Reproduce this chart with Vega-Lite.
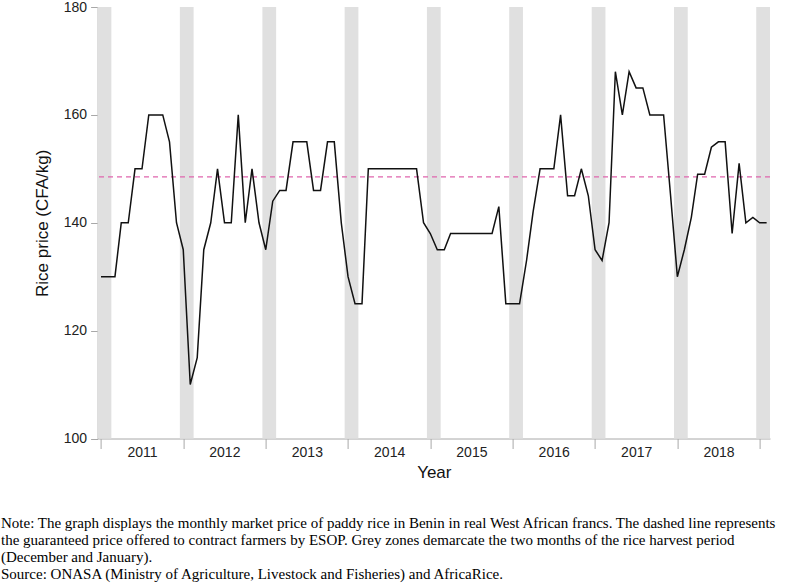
{
  "$schema": "https://vega.github.io/schema/vega-lite/v6.json",
  "width": 672.4,
  "height": 431.5,
  "autosize": {"type": "none"},
  "padding": {"left": 97.6, "top": 7, "right": 20, "bottom": 144.5},
  "background": "white",
  "config": {
    "view": {"stroke": null},
    "font": "Liberation Sans",
    "axis": {
      "domainColor": "#a8a8a8",
      "tickColor": "#a8a8a8",
      "domainWidth": 1,
      "tickWidth": 1,
      "grid": false,
      "labelColor": "#222222",
      "labelFont": "Liberation Sans",
      "labelFontSize": 14,
      "titleFont": "Liberation Sans",
      "titleFontSize": 17,
      "titleFontWeight": "normal",
      "titleColor": "#111111"
    }
  },
  "title": {
    "text": [
      "Note: The graph displays the monthly market price of paddy rice in Benin in real West African francs. The dashed line represents",
      "the guaranteed price offered to contract farmers by ESOP. Grey zones demarcate the two months of the rice harvest period",
      "(December and January).",
      "Source: ONASA (Ministry of Agriculture, Livestock and Fisheries) and AfricaRice."
    ],
    "orient": "bottom",
    "anchor": "start",
    "frame": "group",
    "font": "Liberation Serif",
    "fontSize": 15,
    "fontWeight": "normal",
    "color": "#000000",
    "lineHeight": 17,
    "offset": 35,
    "dx": -96.6
  },
  "datasets": {
    "prices": [
      {"date": "2010-12-01", "price": 130},
      {"date": "2011-01-01", "price": 130},
      {"date": "2011-02-01", "price": 130},
      {"date": "2011-03-01", "price": 140},
      {"date": "2011-04-01", "price": 140},
      {"date": "2011-05-01", "price": 150},
      {"date": "2011-06-01", "price": 150},
      {"date": "2011-07-01", "price": 160},
      {"date": "2011-08-01", "price": 160},
      {"date": "2011-09-01", "price": 160},
      {"date": "2011-10-01", "price": 155},
      {"date": "2011-11-01", "price": 140},
      {"date": "2011-12-01", "price": 135},
      {"date": "2012-01-01", "price": 110},
      {"date": "2012-02-01", "price": 115},
      {"date": "2012-03-01", "price": 135},
      {"date": "2012-04-01", "price": 140},
      {"date": "2012-05-01", "price": 150},
      {"date": "2012-06-01", "price": 140},
      {"date": "2012-07-01", "price": 140},
      {"date": "2012-08-01", "price": 160},
      {"date": "2012-09-01", "price": 140},
      {"date": "2012-10-01", "price": 150},
      {"date": "2012-11-01", "price": 140},
      {"date": "2012-12-01", "price": 135},
      {"date": "2013-01-01", "price": 144},
      {"date": "2013-02-01", "price": 146},
      {"date": "2013-03-01", "price": 146},
      {"date": "2013-04-01", "price": 155},
      {"date": "2013-05-01", "price": 155},
      {"date": "2013-06-01", "price": 155},
      {"date": "2013-07-01", "price": 146},
      {"date": "2013-08-01", "price": 146},
      {"date": "2013-09-01", "price": 155},
      {"date": "2013-10-01", "price": 155},
      {"date": "2013-11-01", "price": 140},
      {"date": "2013-12-01", "price": 130},
      {"date": "2014-01-01", "price": 125},
      {"date": "2014-02-01", "price": 125},
      {"date": "2014-03-01", "price": 150},
      {"date": "2014-04-01", "price": 150},
      {"date": "2014-05-01", "price": 150},
      {"date": "2014-06-01", "price": 150},
      {"date": "2014-07-01", "price": 150},
      {"date": "2014-08-01", "price": 150},
      {"date": "2014-09-01", "price": 150},
      {"date": "2014-10-01", "price": 150},
      {"date": "2014-11-01", "price": 140},
      {"date": "2014-12-01", "price": 138},
      {"date": "2015-01-01", "price": 135},
      {"date": "2015-02-01", "price": 135},
      {"date": "2015-03-01", "price": 138},
      {"date": "2015-04-01", "price": 138},
      {"date": "2015-05-01", "price": 138},
      {"date": "2015-06-01", "price": 138},
      {"date": "2015-07-01", "price": 138},
      {"date": "2015-08-01", "price": 138},
      {"date": "2015-09-01", "price": 138},
      {"date": "2015-10-01", "price": 143},
      {"date": "2015-11-01", "price": 125},
      {"date": "2015-12-01", "price": 125},
      {"date": "2016-01-01", "price": 125},
      {"date": "2016-02-01", "price": 133},
      {"date": "2016-03-01", "price": 142},
      {"date": "2016-04-01", "price": 150},
      {"date": "2016-05-01", "price": 150},
      {"date": "2016-06-01", "price": 150},
      {"date": "2016-07-01", "price": 160},
      {"date": "2016-08-01", "price": 145},
      {"date": "2016-09-01", "price": 145},
      {"date": "2016-10-01", "price": 150},
      {"date": "2016-11-01", "price": 145},
      {"date": "2016-12-01", "price": 135},
      {"date": "2017-01-01", "price": 133},
      {"date": "2017-02-01", "price": 140},
      {"date": "2017-03-01", "price": 168},
      {"date": "2017-04-01", "price": 160},
      {"date": "2017-05-01", "price": 168},
      {"date": "2017-06-01", "price": 165},
      {"date": "2017-07-01", "price": 165},
      {"date": "2017-08-01", "price": 160},
      {"date": "2017-09-01", "price": 160},
      {"date": "2017-10-01", "price": 160},
      {"date": "2017-11-01", "price": 145},
      {"date": "2017-12-01", "price": 130},
      {"date": "2018-01-01", "price": 135},
      {"date": "2018-02-01", "price": 141},
      {"date": "2018-03-01", "price": 149},
      {"date": "2018-04-01", "price": 149},
      {"date": "2018-05-01", "price": 154},
      {"date": "2018-06-01", "price": 155},
      {"date": "2018-07-01", "price": 155},
      {"date": "2018-08-01", "price": 138},
      {"date": "2018-09-01", "price": 151},
      {"date": "2018-10-01", "price": 140},
      {"date": "2018-11-01", "price": 141},
      {"date": "2018-12-01", "price": 140},
      {"date": "2019-01-01", "price": 140}
    ],
    "harvest": [
      {"start": "2010-11-16", "end": "2011-01-16"},
      {"start": "2011-11-16", "end": "2012-01-16"},
      {"start": "2012-11-16", "end": "2013-01-16"},
      {"start": "2013-11-16", "end": "2014-01-16"},
      {"start": "2014-11-16", "end": "2015-01-16"},
      {"start": "2015-11-16", "end": "2016-01-16"},
      {"start": "2016-11-16", "end": "2017-01-16"},
      {"start": "2017-11-16", "end": "2018-01-16"},
      {"start": "2018-11-16", "end": "2019-01-16"}
    ],
    "guarantee": [
      {"guaranteed_price": 148.5}
    ]
  },
  "layer": [
    {
      "data": {"name": "harvest"},
      "mark": {"type": "rect", "color": "#e0e0e0"},
      "encoding": {
        "x": {
          "field": "start",
          "type": "temporal",
          "scale": {
            "type": "utc",
            "domain": [
              {"year": 2010, "month": "nov", "date": 16, "utc": true},
              {"year": 2019, "month": "jan", "date": 16, "utc": true}
            ]
          },
          "axis": {
            "title": "Year",
            "values": [
              {"year": 2010, "month": "dec", "date": 1, "utc": true},
              {"year": 2011, "month": "dec", "date": 1, "utc": true},
              {"year": 2012, "month": "dec", "date": 1, "utc": true},
              {"year": 2013, "month": "dec", "date": 1, "utc": true},
              {"year": 2014, "month": "dec", "date": 1, "utc": true},
              {"year": 2015, "month": "dec", "date": 1, "utc": true},
              {"year": 2016, "month": "dec", "date": 1, "utc": true},
              {"year": 2017, "month": "dec", "date": 1, "utc": true},
              {"year": 2018, "month": "dec", "date": 1, "utc": true}
            ],
            "labelExpr": "utcyear(datum.value) < 2018 ? '' + (utcyear(datum.value) + 1) : ''",
            "labelOffset": 41.1,
            "labelFlush": false,
            "labelOverlap": false,
            "labelBound": false,
            "tickSize": 10,
            "labelPadding": -3,
            "titlePadding": 5
          }
        },
        "x2": {"field": "end"}
      }
    },
    {
      "data": {"name": "guarantee"},
      "mark": {"type": "rule", "color": "#e065ad", "strokeWidth": 1.2, "strokeDash": [5, 4]},
      "encoding": {
        "y": {
          "field": "guaranteed_price",
          "type": "quantitative",
          "scale": {"domain": [100, 180], "nice": false, "zero": false},
          "axis": {
            "title": "Rice price (CFA/kg)",
            "values": [100, 120, 140, 160, 180],
            "tickSize": 7,
            "labelPadding": 4,
            "titlePadding": 12
          }
        }
      }
    },
    {
      "data": {"name": "prices"},
      "mark": {"type": "line", "color": "#111111", "strokeWidth": 1.5},
      "encoding": {
        "x": {"field": "date", "type": "temporal", "title": "Year"},
        "y": {"field": "price", "type": "quantitative", "title": "Rice price (CFA/kg)"}
      }
    }
  ]
}
